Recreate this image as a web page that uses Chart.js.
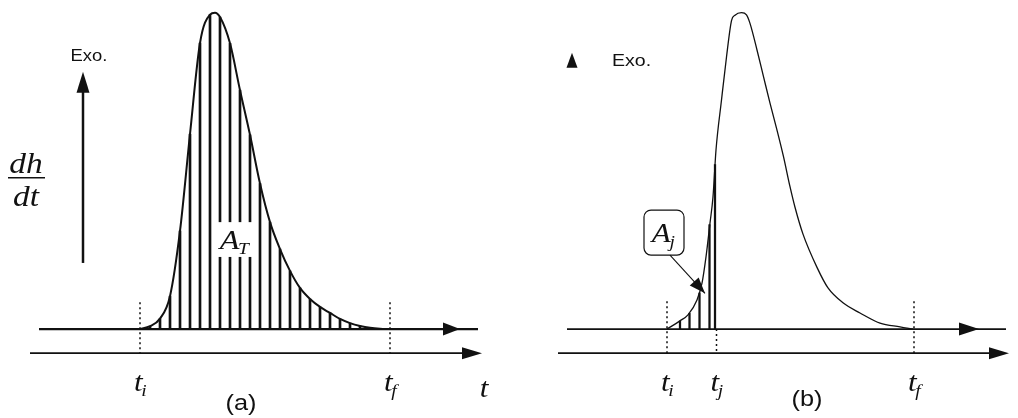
<!DOCTYPE html>
<html>
<head>
<meta charset="utf-8">
<script src="https://cdn.jsdelivr.net/npm/chart.js@4.4.1/dist/chart.umd.min.js"></script>
<style>
  html, body { margin: 0; padding: 0; background: #fff; }
  #wrap { width: 1018px; height: 418px; display: flex; }
  canvas { display: block; }
</style>
</head>
<body>
<div id="wrap">
  <canvas id="panelA" width="509" height="418"></canvas>
  <canvas id="panelB" width="509" height="418"></canvas>
</div>
<script>
// time in arbitrary units with t_i = 0, dh/dt scaled so the peak is 100

// (a) full exotherm, hatched from t_i to t_f
var timeA = [0, 2, 4, 6, 8, 10, 12, 14, 15, 16, 18, 20, 22, 24, 26, 28, 30, 32, 34, 36, 38, 40, 42, 44, 46, 48, 50];
var flowA = [0, 0.9, 3.3, 10.4, 31, 61.6, 90.4, 99.4, 100, 98.6, 90.3, 75.5, 61.4, 46, 33.8, 25.3, 18.4, 13, 9.5, 7, 5.1, 3.2, 1.9, 1, 0.4, 0.1, 0];
var markTimeA = [0, 50];
var markNameA = ['i', 'f'];

// (b) same exotherm, only the part up to t_j hatched
var timeB = [0, 2.6, 4.2, 6, 7, 7.8, 8.6, 9.2, 9.8, 10.9, 11.9, 12.9, 13.6, 14.9, 15.9, 16.6, 18, 19.3, 20.6, 22, 23.3, 24.6, 25.6, 27.2, 30, 32.2, 35.2, 38.6, 42.6, 46.6, 49.2];
var flowB = [0, 2.6, 4.5, 9.2, 14.5, 22.8, 33.5, 41.8, 56.6, 72.4, 86, 97.5, 99.2, 100, 99.3, 96.6, 88.2, 79.8, 71.4, 62.9, 54.5, 45, 38.5, 30, 19.5, 13, 8.3, 5.1, 1.9, 0.7, 0];
var hatchTimeB = [2.6, 4.5, 6.5, 8.5, 9.6];
var hatchFlowB = [2.6, 5, 11.4, 33, 52];
var markTimeB = [0, 9.9, 49.4];
var markNameB = ['i', 'j', 'f'];

// baseline and time axis extents
var baseLineA = [-20.2, 67.6];
var axisLineA = [-22, 68.4];
var baseArrowA = 64;
var baseLineB = [-20, 67.8];
var axisLineB = [-21.8, 68.4];
var baseArrowB = 62.4;
var axisLevel = -7.6;

var ink = '#111';
var stretch = 1.15;

function pts(xs, ys) {
    return xs.map(function (x, i) { return { x: x, y: ys[i] }; });
}

function seg(points, width, dash) {
    return {
        type: 'line', data: points, borderColor: ink, borderWidth: width,
        borderDash: dash || [], pointRadius: 0, tension: 0, fill: false
    };
}

function head(ctx, x, y, dx, dy, len, half) {
    // filled arrowhead with its tip at (x, y) pointing along (dx, dy)
    var bx = x - dx * len, by = y - dy * len;
    ctx.beginPath();
    ctx.moveTo(x, y);
    ctx.lineTo(bx - dy * half, by + dx * half);
    ctx.lineTo(bx + dy * half, by - dx * half);
    ctx.closePath();
    ctx.fillStyle = ink;
    ctx.fill();
}

function say(ctx, str, x, y, font) {
    ctx.save();
    ctx.font = font;
    var w = ctx.measureText(str).width * stretch;
    ctx.translate(x - w / 2, y);
    ctx.scale(stretch, 1);
    ctx.fillStyle = ink;
    ctx.textAlign = 'left';
    ctx.textBaseline = 'alphabetic';
    ctx.fillText(str, 0, 0);
    ctx.restore();
}

function sub(ctx, x, y, main, low, size) {
    // italic letter with a smaller subscript, centred on x
    var big = 'italic ' + size + 'px "Liberation Serif"';
    var small = 'italic ' + Math.round(size * 0.62) + 'px "Liberation Serif"';
    ctx.save();
    ctx.font = big;
    var w1 = ctx.measureText(main).width;
    ctx.font = small;
    var w2 = ctx.measureText(low).width;
    ctx.translate(x - (w1 + w2) * stretch / 2, y);
    ctx.scale(stretch, 1);
    ctx.fillStyle = ink;
    ctx.textAlign = 'left';
    ctx.textBaseline = 'alphabetic';
    ctx.font = big;
    ctx.fillText(main, 0, 0);
    ctx.font = small;
    ctx.fillText(low, w1 - size * 0.04, size * 0.17);
    ctx.restore();
}

function baseOptions(tMin) {
    return {
        responsive: false,
        maintainAspectRatio: false,
        devicePixelRatio: 1,
        animation: false,
        events: [],
        layout: { padding: 0 },
        plugins: { legend: { display: false }, tooltip: { enabled: false } },
        scales: {
            x: { type: 'linear', min: tMin, max: tMin + 101.8, offset: false, display: false },
            y: { type: 'linear', min: -28.1, max: 104, display: false }
        }
    };
}

// ---------- panel (a) ----------
var hatchA = pts(timeA, flowA).filter(function (p) {
    return p.x > 0 && p.x < 50 && p.x % 2 === 0;
});

var guidesA = markTimeA.map(function (t) {
    return seg([{ x: t, y: 8.5 }, { x: t, y: axisLevel }], 1.5, [2, 3]);
});

var panelA = new Chart(document.getElementById('panelA'), {
    type: 'line',
    data: {
        datasets: [
            Object.assign(seg(pts(timeA, flowA), 2), { tension: 0.4, cubicInterpolationMode: 'monotone' }),
            { type: 'bar', data: hatchA, backgroundColor: ink, barThickness: 2, borderWidth: 0, grouped: false },
            seg([{ x: baseLineA[0], y: 0 }, { x: baseLineA[1], y: 0 }], 2.2),
            seg([{ x: axisLineA[0], y: axisLevel }, { x: axisLineA[1] - 3, y: axisLevel }], 1.6),
            seg([{ x: -11.4, y: 20.9 }, { x: -11.4, y: 76 }], 2.5)
        ].concat(guidesA)
    },
    options: baseOptions(-28),
    plugins: [{
        id: 'notesA',
        afterDatasetsDraw: function (chart) {
            var ctx = chart.ctx;
            var X = function (t) { return chart.scales.x.getPixelForValue(t); };
            var Y = function (v) { return chart.scales.y.getPixelForValue(v); };

            head(ctx, X(baseArrowA), Y(0), 1, 0, 17, 6.5);
            head(ctx, X(axisLineA[1]), Y(axisLevel), 1, 0, 20, 6);
            head(ctx, X(-11.4), Y(81.3), 0, -1, 21, 6.5);

            say(ctx, 'Exo.', X(-10.2), Y(84.7), '16px "Liberation Sans"');

            // dh/dt as a stacked fraction
            say(ctx, 'dh', X(-22.8), Y(49.3), 'italic 29px "Liberation Serif"');
            ctx.save();
            ctx.strokeStyle = ink;
            ctx.lineWidth = 1.5;
            ctx.beginPath();
            ctx.moveTo(X(-26.4), Y(47.8));
            ctx.lineTo(X(-19), Y(47.8));
            ctx.stroke();
            ctx.restore();
            say(ctx, 'dt', X(-22.8), Y(38.9), 'italic 29px "Liberation Serif"');

            // A_T sits on a white patch that breaks the hatching
            ctx.fillStyle = '#fff';
            ctx.fillRect(X(15.4), Y(33.8), X(22.8) - X(15.4), Y(22.8) - Y(33.8));
            sub(ctx, X(19), Y(25.2), 'A', 'T', 28);

            markTimeA.forEach(function (t, i) {
                sub(ctx, X(t) + 1, Y(-19.6), 't', markNameA[i], 27);
            });
            say(ctx, 't', X(68.8), Y(-21.5), 'italic 27px "Liberation Serif"');
            say(ctx, '(a)', X(20.2), Y(-25.6), '22px "Liberation Sans"');
        }
    }]
});

// ---------- panel (b) ----------
var guidesB = markTimeB.map(function (t, i) {
    var top = markNameB[i] === 'j' ? 0 : 8.8;
    return seg([{ x: t, y: top }, { x: t, y: axisLevel }], 1.5, [2, 3]);
});

var panelB = new Chart(document.getElementById('panelB'), {
    type: 'line',
    data: {
        datasets: [
            Object.assign(seg(pts(timeB, flowB), 1.3), { tension: 0.4, cubicInterpolationMode: 'monotone' }),
            { type: 'bar', data: pts(hatchTimeB, hatchFlowB), backgroundColor: ink, barThickness: 1.6, borderWidth: 0, grouped: false },
            seg([{ x: baseLineB[0], y: 0 }, { x: baseLineB[1], y: 0 }], 1.8),
            seg([{ x: axisLineB[0], y: axisLevel }, { x: axisLineB[1] - 3, y: axisLevel }], 1.6)
        ].concat(guidesB)
    },
    options: baseOptions(-31.6),
    plugins: [{
        id: 'notesB',
        afterDatasetsDraw: function (chart) {
            var ctx = chart.ctx;
            var X = function (t) { return chart.scales.x.getPixelForValue(t); };
            var Y = function (v) { return chart.scales.y.getPixelForValue(v); };

            head(ctx, X(baseArrowB), Y(0), 1, 0, 20, 6.5);
            head(ctx, X(axisLineB[1]), Y(axisLevel), 1, 0, 20, 6);
            head(ctx, X(-19), Y(87.3), 0, -1, 15, 5.5);

            say(ctx, 'Exo.', X(-7.1), Y(83.2), '17px "Liberation Sans"');

            // A_j callout box and its pointer into the hatched area
            ctx.save();
            ctx.strokeStyle = ink;
            ctx.lineWidth = 1.2;
            ctx.fillStyle = '#fff';
            ctx.beginPath();
            ctx.roundRect(X(-4.6), Y(37.6), X(3.4) - X(-4.6), Y(23.4) - Y(37.6), 7);
            ctx.fill();
            ctx.stroke();
            var x0 = X(0.6), y0 = Y(23.4), x1 = X(7.6), y1 = Y(11.3);
            var len = Math.hypot(x1 - x0, y1 - y0);
            ctx.lineWidth = 1.1;
            ctx.beginPath();
            ctx.moveTo(x0, y0);
            ctx.lineTo(x1, y1);
            ctx.stroke();
            ctx.restore();
            head(ctx, x1, y1, (x1 - x0) / len, (y1 - y0) / len, 16, 6);
            sub(ctx, X(-0.6), Y(27.4), 'A', 'j', 27);

            markTimeB.forEach(function (t, i) {
                sub(ctx, X(t) + 1, Y(-19.6), 't', markNameB[i], 27);
            });
            say(ctx, '(b)', X(28), Y(-24.2), '22px "Liberation Sans"');
        }
    }]
});
</script>
</body>
</html>
